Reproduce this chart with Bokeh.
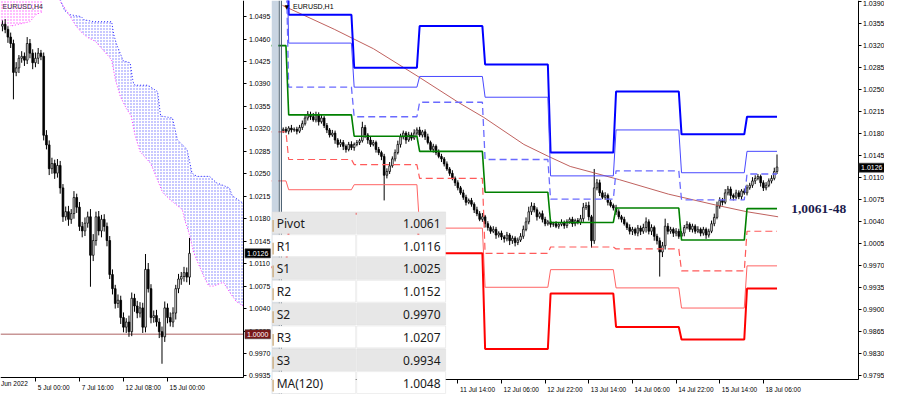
from bokeh.plotting import figure
from bokeh.layouts import row
from bokeh.models import (Range1d, LinearAxis, FixedTicker, PrintfTickFormatter,
                          Label, BoxAnnotation)
from bokeh.embed import file_html
from bokeh.resources import INLINE

# ======================= DATA =======================
# ---- Left panel: EURUSD,H4 (bar index, 0 = 5 Jul 00:00), prices in 1e-4 ----
h4_start = -12
h4_first_open = 10480
h4_close = [10483, 10475, 10463, 10453, 10408, 10415, 10430, 10433, 10427, 10453,
            10438, 10423, 10430, 10438, 10433, 10310, 10295, 10258, 10266, 10251,
            10263, 10228, 10183, 10191, 10179, 10188, 10213, 10198, 10168, 10161,
            10173, 10183, 10123, 10146, 10183, 10161, 10179, 10168, 10146, 10093,
            10071, 10048, 10053, 10026, 10011, 10019, 10004, 10056, 10044, 10033,
            10041, 10011, 10101, 10071, 10026, 10029, 10019, 10004, 9996, 10041,
            10026, 10019, 10033, 10071, 10086, 10090, 10096, 10089, 10126]
h4_wick_hi = [6, 8, 5, 7, 6, 9, 5, 8, 6, 10, 7, 6, 9, 8, 5, 6, 8, 7, 9, 6,
              10, 7, 6, 8, 9, 7, 10, 6, 8, 7, 9, 8, 12, 10, 8, 9, 7, 8, 6, 7,
              8, 6, 9, 7, 8, 6, 10, 9, 7, 8, 9, 8, 24, 10, 7, 8, 9, 6, 8, 10,
              7, 8, 9, 6, 8, 7, 9, 8, 24]
h4_wick_lo = [8, 6, 9, 7, 42, 6, 8, 7, 9, 6, 8, 10, 7, 9, 6, 8, 7, 10, 8, 9,
              7, 9, 8, 6, 10, 7, 8, 9, 7, 10, 8, 7, 49, 9, 8, 7, 10, 8, 9, 7,
              9, 8, 7, 10, 8, 9, 8, 7, 9, 8, 7, 9, 8, 6, 9, 8, 7, 10, 42, 8,
              9, 7, 8, 10, 7, 9, 8, 8, 12]

# Ichimoku cloud (Senkou spans), bar index / price
kumo_up_x = [8.7, 10.5, 12.3, 16.6, 17.7, 21.2, 27.7, 28.4, 29.4, 31.9, 34.4, 35.5, 36.2, 40.9,
             44.4, 45.5, 49.8, 51.6, 53.4, 55.1, 56.9, 58.7, 63.3, 65.8, 70.5, 71.5, 74.8, 75.8]
kumo_up_y = [1.0525, 1.0505, 1.0498, 1.0495, 1.0490, 1.0487, 1.0487, 1.0468, 1.0453, 1.0426,
             1.0423, 1.0393, 1.0388, 1.0388, 1.0378, 1.0340, 1.0337, 1.0303, 1.0295, 1.0288,
             1.0251, 1.0246, 1.0246, 1.0236, 1.0228, 1.0216, 1.0206, 1.0204]
kumo_lo_x = [8.0, 11.2, 14.8, 16.6, 18.7, 21.9, 24.1, 26.6, 27.7, 29.1, 30.9, 33.0, 34.8, 36.2,
             38.0, 39.8, 41.9, 44.4, 46.2, 49.1, 53.4, 54.4, 55.9, 57.6, 59.4, 61.2, 63.0, 64.8,
             68.3, 70.5, 73.0, 75.5, 75.8]
kumo_lo_y = [1.0525, 1.0505, 1.0480, 1.0471, 1.0463, 1.0456, 1.0445, 1.0433, 1.0427, 1.0396,
             1.0370, 1.0352, 1.0340, 1.0310, 1.0285, 1.0276, 1.0266, 1.0240, 1.0221, 1.0209,
             1.0194, 1.0176, 1.0156, 1.0126, 1.0108, 1.0090, 1.0075, 1.0075, 1.0081, 1.0066,
             1.0051, 1.0044, 1.0043]
kumo_old_x = [-13.0, 3.0, 2.3, 0.2, -2.0, -9.1, -13.0]
kumo_old_y = [1.0530, 1.0530, 1.0502, 1.0498, 1.0487, 1.0480, 1.0483]

h4_time_ticks = [-18, 0, 16, 32, 48]
h4_time_labels = ["30 Jun 2022", "5 Jul 00:00", "7 Jul 16:00", "12 Jul 08:00", "15 Jul 00:00"]
h4_price_ticks = [1.0495, 1.0460, 1.0425, 1.0390, 1.0355, 1.0320, 1.0285, 1.0250, 1.0215,
                  1.0180, 1.0145, 1.0110, 1.0075, 1.0040, 1.0005, 0.9970, 0.9935]
round_level = 1.0000
last_price = 1.0126

# ---- Right panel: EURUSD,H1 (bar index, 0 = 7 Jul 00:00), prices in 1e-4 ----
h1_start = -2
h1_first_open = 10185
h1_close = [10187, 10184, 10189, 10186, 10187, 10184, 10190, 10196, 10205, 10211,
            10207, 10202, 10210, 10199, 10205, 10193, 10186, 10178, 10181, 10170,
            10163, 10166, 10160, 10155, 10163, 10158, 10163, 10166, 10169, 10190,
            10178, 10170, 10163, 10166, 10155, 10150, 10144, 10114, 10120, 10129,
            10140, 10150, 10163, 10175, 10181, 10170, 10178, 10173, 10181, 10186,
            10178, 10183, 10175, 10166, 10155, 10160, 10150, 10144, 10140, 10132,
            10124, 10117, 10109, 10102, 10094, 10086, 10079, 10071, 10074, 10068,
            10059, 10053, 10044, 10048, 10037, 10031, 10025, 10028, 10019, 10022,
            10016, 10013, 10019, 10010, 10014, 10007, 10011, 10017, 10028, 10040,
            10056, 10065, 10059, 10048, 10053, 10044, 10037, 10040, 10036, 10037,
            10033, 10036, 10039, 10034, 10040, 10044, 10037, 10042, 10039, 10045,
            10063, 10066, 10048, 10010, 10094, 10102, 10086, 10079, 10082, 10071,
            10066, 10062, 10056, 10048, 10044, 10037, 10031, 10025, 10028, 10022,
            10030, 10025, 10031, 10040, 10025, 10031, 10017, 10010, 9992, 10002,
            10033, 10025, 10028, 10022, 10025, 10017, 10022, 10031, 10036, 10028,
            10033, 10025, 10028, 10022, 10028, 10019, 10025, 10037, 10047, 10065,
            10074, 10071, 10086, 10092, 10082, 10079, 10086, 10080, 10089, 10086,
            10094, 10098, 10105, 10109, 10112, 10102, 10094, 10098, 10105, 10109,
            10120, 10127]
h1_wick_hi = [3, 4, 3, 5, 3, 4, 4, 5, 6, 5, 4, 6, 5, 4, 6, 3, 4, 3, 5, 4,
              3, 5, 4, 3, 4, 5, 3, 4, 3, 9, 4, 3, 5, 4, 3, 4, 3, 4, 5, 6,
              4, 5, 6, 5, 4, 3, 5, 4, 6, 4, 5, 3, 4, 5, 3, 4, 3, 5, 4, 3,
              4, 3, 5, 3, 4, 3, 5, 4, 3, 4, 3, 5, 4, 6, 3, 4, 3, 5, 4, 3,
              4, 3, 5, 3, 4, 3, 4, 5, 6, 7, 8, 6, 5, 4, 3, 5, 4, 3, 4, 3,
              4, 3, 5, 3, 4, 3, 4, 3, 4, 6, 7, 5, 6, 3, 30, 6, 5, 4, 5, 3,
              4, 3, 5, 4, 3, 4, 3, 5, 4, 3, 5, 4, 6, 7, 4, 5, 3, 4, 5, 6,
              12, 5, 4, 3, 5, 4, 3, 4, 5, 3, 4, 3, 5, 3, 4, 3, 4, 5, 6, 7,
              5, 4, 6, 5, 4, 3, 5, 4, 3, 4, 5, 4, 6, 5, 4, 3, 4, 5, 4, 5,
              6, 20]
h1_wick_lo = [4, 3, 5, 4, 3, 5, 3, 4, 3, 4, 5, 3, 4, 6, 3, 4, 5, 4, 3, 6,
              5, 4, 6, 5, 3, 4, 5, 3, 4, 3, 5, 6, 4, 3, 5, 4, 6, 40, 5, 4,
              3, 4, 3, 5, 4, 6, 3, 4, 3, 4, 3, 4, 5, 3, 4, 5, 4, 3, 5, 4,
              3, 4, 3, 5, 4, 3, 4, 5, 3, 4, 5, 4, 3, 4, 6, 5, 4, 3, 6, 4,
              5, 6, 4, 7, 5, 6, 4, 3, 4, 3, 4, 5, 4, 6, 3, 5, 4, 3, 5, 4,
              3, 4, 3, 5, 4, 3, 5, 4, 3, 4, 5, 4, 6, 11, 5, 4, 5, 3, 4, 5,
              3, 4, 5, 4, 5, 3, 4, 5, 6, 4, 5, 6, 4, 8, 5, 6, 7, 6, 39, 8,
              6, 5, 4, 6, 5, 4, 6, 5, 3, 4, 5, 4, 3, 5, 4, 6, 4, 3, 4, 3,
              4, 5, 3, 4, 6, 5, 3, 4, 5, 3, 4, 3, 4, 5, 3, 6, 5, 4, 3, 4,
              3, 4]

# Daily pivot levels (6 Jul .. 18 Jul)
day_start = [-24, 0, 24, 48, 72, 96, 120, 144, 168]
last_bar = 179
piv_R3 = [1.0672, 1.0369, 1.0285, 1.0351, 1.0290, 1.0150, 1.0247, 1.0179, 1.0207]
piv_R2 = [1.0535, 1.0324, 1.0254, 1.0271, 1.0238, 1.0113, 1.0186, 1.0118, 1.0152]
piv_R1 = [1.0457, 1.0254, 1.0207, 1.0230, 1.0139, 1.0076, 1.0121, 1.0075, 1.0116]
piv_P = [1.0320, 1.0210, 1.0176, 1.0152, 1.0087, 1.0039, 1.0062, 1.0011, 1.0061]
piv_S1 = [1.0183, 1.0139, 1.0131, 1.0109, 0.9990, 1.0000, 0.9997, 0.9962, 1.0025]
piv_S2 = [1.0105, 1.0091, 1.0099, 1.0030, 0.9936, 0.9964, 0.9935, 0.9903, 0.9970]
piv_S3 = [0.9968, 1.0025, 1.0053, 0.9990, 0.9838, 0.9926, 0.9873, 0.9853, 0.9934]

# MA(120)
ma_x = [-2.3, 16.7, 31.1, 47.4, 62.5, 71.5, 86.2, 95.2, 103.2, 121.2, 139.2, 157.2, 168.0, 179.4]
ma_y = [1.0384, 1.0346, 1.0315, 1.0271, 1.0229, 1.0206, 1.0163, 1.0144, 1.0128, 1.0107,
        1.0084, 1.0066, 1.0056, 1.0048]

h1_time_ticks = [62, 78, 94, 110, 126, 142, 158, 174]
h1_time_labels = ["11 Jul 14:00", "12 Jul 06:00", "12 Jul 22:00", "13 Jul 14:00",
                  "14 Jul 06:00", "14 Jul 22:00", "15 Jul 14:00", "18 Jul 06:00"]
h1_price_ticks = [1.0390, 1.0355, 1.0320, 1.0285, 1.0250, 1.0215, 1.0180, 1.0145, 1.0110,
                  1.0075, 1.0040, 1.0005, 0.9970, 0.9935, 0.9900, 0.9865, 0.9830, 0.9795]

table_names = ["Pivot", "R1", "S1", "R2", "S2", "R3", "S3", "MA(120)"]
table_values = ["1.0061", "1.0116", "1.0025", "1.0152", "0.9970", "1.0207", "0.9934", "1.0048"]
zone_text = "1,0061-48"
zone_value = 1.00603

# ======================= LAYOUT =======================
W_L, W_R, H = 271, 613, 394
AX_FONT = "Liberation Sans"
TIME_FS = "6.5px"

# chart areas (data units): left H4 chart, right H1 chart
L_X0, L_X1, L_XA = -12.7, 85.8, 75.8          # view start/end, price-axis position
L_Y0, L_Y1, L_YA = 0.99061, 1.0520, 0.99331    # view bottom/top, time-axis position
R_X0, R_X1, R_XA = -6.3, 218.4, 208.7
R_Y0, R_Y1, R_YA = 0.97656, 1.03917, 0.97900


def price_axis(ticks, xloc, ybounds):
    ax = LinearAxis(ticker=FixedTicker(ticks=ticks), formatter=PrintfTickFormatter(format="%.4f"),
                    fixed_location=xloc, bounds=ybounds)
    ax.axis_line_color = "black"
    ax.axis_line_width = 1
    ax.major_tick_line_color = "black"
    ax.major_tick_out = 3
    ax.major_tick_in = 0
    ax.minor_tick_line_color = None
    ax.major_label_text_font = AX_FONT
    ax.major_label_text_font_size = "7px"
    ax.major_label_text_color = "#000000"
    ax.major_label_standoff = 2
    return ax


def time_axis(p, ticks, labels, x0, ppu, yloc, xbounds):
    # MT4-style: labels start just right of their tick
    inside = [(t, l) for t, l in zip(ticks, labels) if t >= x0]
    outside = [(t, l) for t, l in zip(ticks, labels) if t < x0]
    centers = [round(t + (2 + 1.48 * len(l)) / ppu, 3) for t, l in inside]
    ax = LinearAxis(ticker=FixedTicker(ticks=centers, minor_ticks=[t for t, _ in inside]),
                    major_label_overrides={c: l for c, (_, l) in zip(centers, inside)},
                    fixed_location=yloc, bounds=xbounds)
    ax.axis_line_color = "black"
    ax.major_tick_line_color = None
    ax.major_tick_out = 0
    ax.major_tick_in = 0
    ax.minor_tick_line_color = "black"
    ax.minor_tick_out = 4
    ax.minor_tick_in = 0
    ax.major_label_text_font = AX_FONT
    ax.major_label_text_font_size = TIME_FS
    ax.major_label_text_color = "#000000"
    ax.major_label_standoff = 3
    p.add_layout(ax, "below")
    for t, l in outside:
        # tick lies left of the view: only the tail of its label ("Jun 2022") shows at the edge
        tail = l.split(" ", 1)[1]
        p.add_layout(Label(x=0.5, y=yloc, x_units="screen", text=tail, y_offset=-3,
                           text_align="left", text_baseline="top", text_font=AX_FONT,
                           text_font_size=TIME_FS, text_color="#000000"))


def draw_candles(p, start, first_open, closes, whi, wlo, width):
    n = len(closes)
    xs = list(range(start, start + n))
    c = [v / 1e4 for v in closes]
    o = [first_open / 1e4] + c[:-1]
    hi = [max(a, b) + w / 1e4 for a, b, w in zip(o, c, whi)]
    lo = [min(a, b) - w / 1e4 for a, b, w in zip(o, c, wlo)]
    p.segment(xs, hi, xs, lo, line_color="black", line_width=1)
    bu = [i for i in range(n) if c[i] >= o[i]]
    be = [i for i in range(n) if c[i] < o[i]]
    p.vbar(x=[xs[i] for i in bu], width=width, top=[c[i] for i in bu], bottom=[o[i] for i in bu],
           fill_color="#ffffff", line_color="black", line_width=0.8)
    p.vbar(x=[xs[i] for i in be], width=width, top=[o[i] for i in be], bottom=[c[i] for i in be],
           fill_color="black", line_color="black", line_width=0.8)


def price_box(p, x, y, text, bg):
    p.add_layout(Label(x=x, y=y, text=text, x_offset=1, text_align="left", text_baseline="middle",
                       text_font=AX_FONT, text_font_size="7px", text_color="white",
                       background_fill_color=bg, background_fill_alpha=1.0, padding=2,
                       border_line_color="#404040", border_line_alpha=0.6,
                       level="overlay"))


def base_figure(w, xr, yr):
    p = figure(width=w, height=H, x_range=Range1d(*xr), y_range=Range1d(*yr),
               output_backend="svg", toolbar_location=None,
               x_axis_location=None, y_axis_location=None,
               min_border_left=0, min_border_top=0, min_border_right=0, min_border_bottom=0)
    p.outline_line_color = None
    p.grid.visible = False
    p.background_fill_color = "white"
    p.border_fill_color = "white"
    return p


# ---------------- left figure (H4) ----------------
p1 = base_figure(W_L, (L_X0, L_X1), (L_Y0, L_Y1))
p1.add_layout(price_axis(h4_price_ticks, L_XA, (L_YA, L_Y1)), "right")
time_axis(p1, h4_time_ticks, h4_time_labels, L_X0, W_L / (L_X1 - L_X0), L_YA, (L_X0, L_XA))

p1.patch(kumo_old_x, kumo_old_y, fill_color=None, line_color=None,
         hatch_pattern="dot", hatch_color="#ff40ff", hatch_scale=3, hatch_weight=1, hatch_alpha=0.85)
p1.line(kumo_old_x[2:6], kumo_old_y[2:6], line_color="#ff40ff", line_width=1, line_dash="1 2")
p1.patch(kumo_up_x + kumo_lo_x[::-1], kumo_up_y + kumo_lo_y[::-1], fill_color=None, line_color=None,
         hatch_pattern="dot", hatch_color="#5c5cff", hatch_scale=3, hatch_weight=1, hatch_alpha=0.85)
p1.line(kumo_up_x, kumo_up_y, line_color="#2020ff", line_width=1, line_dash="1 2")
p1.line(kumo_lo_x, kumo_lo_y, line_color="#ff30ff", line_width=1, line_dash="1 2")

p1.line([L_X0, L_XA], [round_level, round_level], line_color="#c89696", line_width=1.6)
draw_candles(p1, h4_start, h4_first_open, h4_close, h4_wick_hi, h4_wick_lo, 0.62)

p1.add_layout(Label(x=2, y=H - 6, x_units="screen", y_units="screen", text="EURUSD,H4",
                    text_font=AX_FONT, text_font_size="7px", text_color="#333333",
                    text_baseline="middle"))
price_box(p1, L_XA, last_price, "1.0126", "#000000")
price_box(p1, L_XA, round_level, "1.0000", "#7a1818")

# ---------------- right figure (H1) ----------------
p2 = base_figure(W_R, (R_X0, R_X1), (R_Y0, R_Y1))
p2.add_layout(price_axis(h1_price_ticks, R_XA, (R_YA, R_Y1)), "right")
time_axis(p2, h1_time_ticks, h1_time_labels, R_X0, W_R / (R_X1 - R_X0), R_YA, (R_X0, R_XA))

draw_candles(p2, h1_start, h1_first_open, h1_close, h1_wick_hi, h1_wick_lo, 0.6)
p2.line(ma_x, ma_y, line_color="#b8504c", line_width=1, line_alpha=0.9)


def step_xy(levels):
    xs, ys = [], []
    ends = day_start[1:] + [last_bar + 1]
    for s, e, v in zip(day_start, ends, levels):
        xs += [s, e - 1]
        ys += [v, v]
    return xs, ys


level_styles = [
    (piv_R3, "#0000ff", 2.0, "solid"),
    (piv_R2, "#4848ff", 1.0, "solid"),
    (piv_R1, "#6a6aff", 1.3, "7 4"),
    (piv_S1, "#ff5a5a", 1.2, "7 4"),
    (piv_S2, "#ff6464", 1.0, "solid"),
    (piv_S3, "#ff0000", 2.0, "solid"),
    (piv_P, "#008000", 1.6, "solid"),
]
for lv, col, lw, dash in level_styles:
    xs, ys = step_xy(lv)
    p2.line(xs, ys, line_color=col, line_width=lw, line_dash=dash)

p2.add_layout(Label(x=184.2, y=zone_value, text=zone_text, text_baseline="middle",
                    text_font="Liberation Serif", text_font_style="bold",
                    text_font_size="13.5px", text_color="#1b1b4d"))
price_box(p2, R_XA, last_price, "1.0126", "#000000")

# separator between the two charts
p2.add_layout(BoxAnnotation(left=0, right=6.9, left_units="screen", right_units="screen",
                            fill_color="#c9d5e2", fill_alpha=1, line_color=None, level="overlay"))
for l0 in (7.2, 9.4):
    p2.add_layout(BoxAnnotation(left=l0, right=l0 + 1.0, left_units="screen", right_units="screen",
                                fill_color="#3d5366", fill_alpha=1, line_color=None, level="overlay"))

p2.add_layout(Label(x=13, y=H - 6, x_units="screen", y_units="screen", text="\u25bc",
                    text_font="DejaVu Sans", text_font_size="6px", text_color="black",
                    text_baseline="middle"))
p2.add_layout(Label(x=21.6, y=H - 6, x_units="screen", y_units="screen", text="EURUSD,H1",
                    text_font=AX_FONT, text_font_size="7px", text_color="black",
                    text_baseline="middle"))

# pivot table
T_TOP, T_ROW = 182.6, 22.82
T_L, T_M, T_R = 0.7, 84.2, 174.1
for i, (nm, val) in enumerate(zip(table_names, table_values)):
    top = T_TOP - T_ROW * i
    bot = top - T_ROW
    bg = "#e7e7e7" if i % 2 == 0 else "#ffffff"
    for a, b in ((T_L, T_M), (T_M + 1, T_R)):
        p2.add_layout(BoxAnnotation(left=a, right=b, top=top, bottom=bot + 1,
                                    left_units="screen", right_units="screen",
                                    top_units="screen", bottom_units="screen",
                                    fill_color=bg, fill_alpha=1, line_color="#dcdcdc",
                                    line_alpha=1, line_width=0.5, level="overlay"))
    p2.add_layout(BoxAnnotation(left=T_L + 0.3, right=T_L + 1.5, top=top - 8, bottom=bot + 3,
                                left_units="screen", right_units="screen",
                                top_units="screen", bottom_units="screen",
                                fill_color="#c8a46e", fill_alpha=1, line_color=None, level="overlay"))
    mid = (top + bot) / 2
    p2.add_layout(Label(x=T_L + 4.5, y=mid, x_units="screen", y_units="screen", text=nm,
                        text_font="Noto Sans", text_font_size="12px", text_color="#1a1a1a",
                        text_baseline="middle", level="overlay"))
    p2.add_layout(Label(x=T_R - 5, y=mid, x_units="screen", y_units="screen", text=val,
                        text_font="Noto Sans", text_font_size="12px", text_color="#1a1a1a",
                        text_align="right", text_baseline="middle", level="overlay"))

layout = row(p1, p2)
open("out.html", "w").write(file_html(layout, INLINE))
